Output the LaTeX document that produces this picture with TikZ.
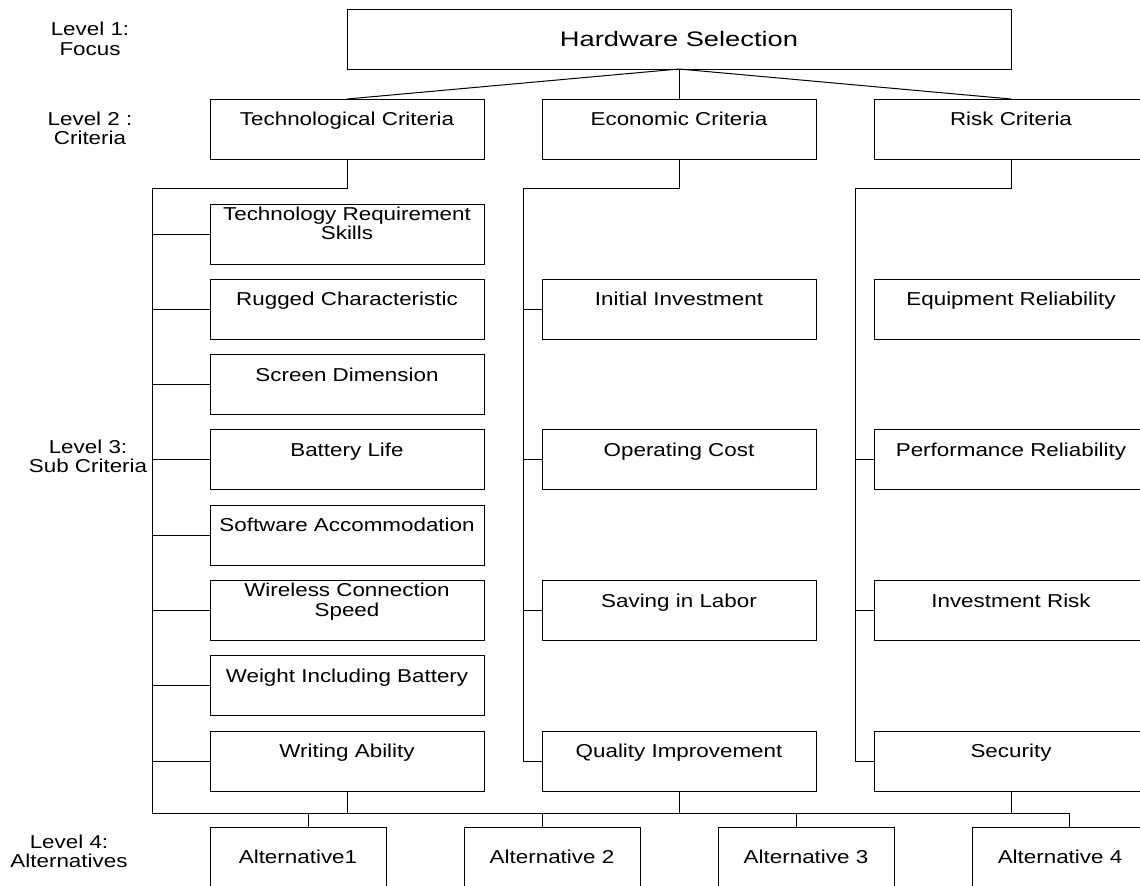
\documentclass[tikz,border=0pt]{standalone}
\usepackage{fontspec}
\setmainfont{Liberation Sans}[FakeStretch=1.2]
\newfontfamily\hwfont{Liberation Sans}[FakeStretch=1.3]
\usetikzlibrary{calc}
\begin{document}
\begin{tikzpicture}[x=0.75pt,y=-0.75pt,
  every node/.style={inner sep=0pt, outer sep=0pt},
  line/.style={draw=black, line width=0.75pt},
  box/.style={draw=black, line width=0.75pt, rectangle, anchor=north west, minimum width=205.5pt, minimum height=45pt},
  altbox/.style={box, minimum width=132pt, font=\fontsize{14}{14.6}\selectfont},
  txt/.style={font=\fontsize{14}{14.6}\selectfont, anchor=base},
  txttwo/.style={font=\fontsize{14}{14.6}\selectfont, anchor=north, align=center},
]
\useasboundingbox (0,0) rectangle (1140,886);

% level labels
\node[txttwo] (lv1) at (90,22.1) {Level 1:\\Focus};
\node[txttwo] (lv2) at (90,111.6) {Level 2 :\\Criteria};
\node[txttwo] (lv3) at (88,439.6) {Level 3:\\Sub Criteria};
\node[txttwo] (lv4) at (69,834.6) {Level 4:\\Alternatives};

% level 1
\node[box, minimum width=498pt] (hs) at (347,9) {};
\node[txt, font={\hwfont\fontsize{15.75}{18}\selectfont}] (hst) at ($(hs.north)+(0,37)$) {Hardware Selection};

% level 2
\node[box] (tc) at (210,99) {};
\node[txt] (tct) at ($(tc.north)+(0,26.5)$) {Technological Criteria};
\node[box] (ec) at (542,99) {};
\node[txt] (ect) at ($(ec.north)+(0,26.5)$) {Economic Criteria};
\node[box] (rc) at (874,99) {};
\node[txt] (rct) at ($(rc.north)+(0,26.5)$) {Risk Criteria};

% level 3: technological
\node[box] (t1) at (210,204) {};
\node[txttwo] (t1t) at ($(t1.north)+(0,2.6)$) {Technology Requirement\\Skills};
\node[box] (t2) at (210,279.3) {};
\node[txt] (t2t) at ($(t2.north)+(0,26.5)$) {Rugged Characteristic};
\node[box] (t3) at (210,354.6) {};
\node[txt] (t3t) at ($(t3.north)+(0,26.5)$) {Screen Dimension};
\node[box] (t4) at (210,429.9) {};
\node[txt] (t4t) at ($(t4.north)+(0,26.5)$) {Battery Life};
\node[box] (t5) at (210,505.2) {};
\node[txt] (t5t) at ($(t5.north)+(0,26.5)$) {Software Accommodation};
\node[box] (t6) at (210,580.5) {};
\node[txttwo] (t6t) at ($(t6.north)+(0,2.6)$) {Wireless Connection\\Speed};
\node[box] (t7) at (210,655.8) {};
\node[txt] (t7t) at ($(t7.north)+(0,26.5)$) {Weight Including Battery};
\node[box] (t8) at (210,731.1) {};
\node[txt] (t8t) at ($(t8.north)+(0,26.5)$) {Writing Ability};

% level 3: economic
\node[box] (e1) at (542,279.3) {};
\node[txt] (e1t) at ($(e1.north)+(0,26.5)$) {Initial Investment};
\node[box] (e2) at (542,429.9) {};
\node[txt] (e2t) at ($(e2.north)+(0,26.5)$) {Operating Cost};
\node[box] (e3) at (542,580.5) {};
\node[txt] (e3t) at ($(e3.north)+(0,26.5)$) {Saving in Labor};
\node[box] (e4) at (542,731.1) {};
\node[txt] (e4t) at ($(e4.north)+(0,26.5)$) {Quality Improvement};

% level 3: risk
\node[box] (r1) at (874,279.3) {};
\node[txt] (r1t) at ($(r1.north)+(0,26.5)$) {Equipment Reliability};
\node[box] (r2) at (874,429.9) {};
\node[txt] (r2t) at ($(r2.north)+(0,26.5)$) {Performance Reliability};
\node[box] (r3) at (874,580.5) {};
\node[txt] (r3t) at ($(r3.north)+(0,26.5)$) {Investment Risk};
\node[box] (r4) at (874,731.1) {};
\node[txt] (r4t) at ($(r4.north)+(0,26.5)$) {Security};

% level 4
\node[altbox] (a1) at (210,827) {Alternative1};
\node[altbox] (a2) at (464,827) {Alternative 2};
\node[altbox] (a3) at (718,827) {Alternative 3};
\node[altbox] (a4) at (972,827) {Alternative 4};

% bend points
\coordinate (tL) at (152,188);
\coordinate (eL) at (523,188);
\coordinate (rL) at (855,188);
\coordinate (bL) at (152,813);
\coordinate (bR) at (1069,813);
\coordinate (d1) at (308,813);
\coordinate (d2) at (542,813);
\coordinate (d3) at (796,813);

% connectors
\draw[line] (hs.south) -- (tc.north);
\draw[line] (hs.south) -- (ec.north);
\draw[line] (hs.south) -- (rc.north);
\draw[line] (tc.south) |- (tL) -- (bL) -- (bR) -- (bR |- a4.north);
\draw[line] (ec.south) |- (eL) -- (eL |- e4.west);
\draw[line] (rc.south) |- (rL) -- (rL |- r4.west);
\foreach \b in {t1,t2,t3,t4,t5,t6,t7,t8}
  \draw[line] (\b.west -| tL) -- (\b.west);
\foreach \b in {e1,e2,e3,e4}
  \draw[line] (\b.west -| eL) -- (\b.west);
\foreach \b in {r2,r3,r4}
  \draw[line] (\b.west -| rL) -- (\b.west);
\draw[line] (t8.south) -- (t8.south |- bL);
\draw[line] (e4.south) -- (e4.south |- bL);
\draw[line] (r4.south) -- (r4.south |- bL);
\draw[line] (d1) -- (d1 |- a1.north);
\draw[line] (d2) -- (d2 |- a2.north);
\draw[line] (d3) -- (d3 |- a3.north);
\end{tikzpicture}
\end{document}
